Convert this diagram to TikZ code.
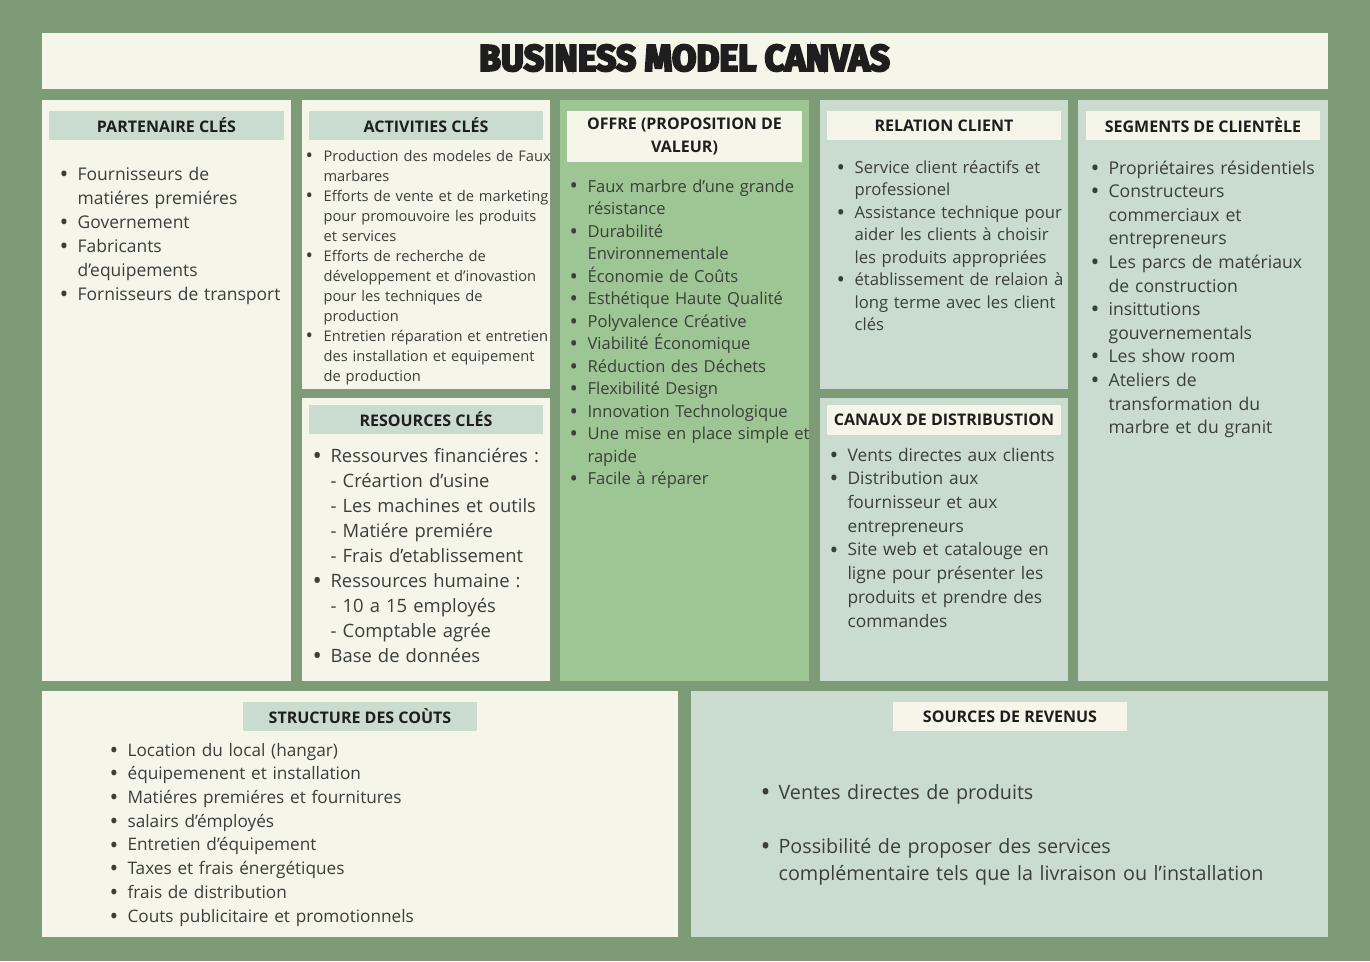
\documentclass[tikz,border=0pt]{standalone}
\usepackage{graphicx}
\usepackage{fontspec}
\setmainfont{Open Sans}
\newfontfamily\titlefont[FakeBold=6]{Fira Sans}

\definecolor{canvasgreen}{HTML}{7E9B78}
\definecolor{cream}{HTML}{F5F5EA}
\definecolor{sage}{HTML}{CADCD0}
\definecolor{offergreen}{HTML}{9EC594}
\definecolor{bodytext}{HTML}{3A3F3A}
\definecolor{hdrtext}{HTML}{1E1E1E}

\newlength\bw
\setlength\bw{11.5pt}
\newcommand\bigdot{\raisebox{-0.12em}{\scalebox{1.35}{\textbullet}}}
\newcommand\bul{\noindent\hangindent=\bw\hangafter=1\makebox[\bw][l]{\hspace*{-2pt}\bigdot}}
\newcommand\itm{\par\bul}
\newcommand\subitm{\par\noindent\hspace*{\bw}}
\newcommand\nl{\newline}

\begin{document}
\begin{tikzpicture}[x=0.75pt,y=-0.75pt]

	\tikzstyle{hdr} = [font=\bfseries\fontsize{12}{17}\selectfont,text=hdrtext,minimum width=176pt,minimum height=22pt,inner sep=0pt]
	\tikzstyle{body} = [anchor=base west,inner sep=0pt,text width=260pt,align=left,text=bodytext]

	% background and panels
	\useasboundingbox (0,0) rectangle (1370,961);
	\fill[canvasgreen] (0,0) rectangle (1370,961);
	\foreach \xa/\ya/\xb/\yb/\col in {42/33/1328/89/cream, 42/100/291/681/cream,
		302/100/550/389/cream, 302/398/550/681/cream, 560/100/809/681/offergreen,
		820/100/1068/389/sage, 820/398/1068/681/sage, 1078/100/1328/681/sage,
		42/691/678/937/cream, 691/691/1328/937/sage}
		\fill[\col] (\xa,\ya) rectangle (\xb,\yb);

	\node[text=hdrtext,inner sep=0pt] (title) at (684.5,58) {\resizebox{308pt}{19.5pt}{\titlefont\bfseries BUSINESS MODEL CANVAS}};

	% headers
	\node[hdr,fill=sage] (partnerhd) at (166.5,125.5) {PARTENAIRE CLÉS};
	\node[hdr,fill=sage] (activhd) at (426,125.5) {ACTIVITIES CLÉS};
	\node[hdr,fill=cream,minimum height=38pt,align=center] (offrehd) at (684.5,136.5) {OFFRE (PROPOSITION DE\\VALEUR)};
	\node[hdr,fill=cream] (relationhd) at (944,125.5) {RELATION CLIENT};
	\node[hdr,fill=cream] (segmenthd) at (1203,125.5) {SEGMENTS DE CLIENTÈLE};
	\node[hdr,fill=sage] (resourcehd) at (426,419.5) {RESOURCES CLÉS};
	\node[hdr,fill=cream] (canauxhd) at (944,420) {CANAUX DE DISTRIBUSTION};
	\node[hdr,fill=sage] (structhd) at (360,716.5) {STRUCTURE DES COÙTS};
	\node[hdr,fill=cream] (sourcehd) at (1010,716.5) {SOURCES DE REVENUS};

	% lists
	\node[body,font=\fontsize{13.1}{18}\selectfont] (partnerlist) at (62,180) {
		\bul Fournisseurs de\nl matiéres premiéres
		\itm Governement
		\itm Fabricants\nl d’equipements
		\itm Fornisseurs de transport\par};

	\node[body,font=\fontsize{11}{15}\selectfont] (activlist) at (308,161) {
		\bul Production des modeles de Faux\nl marbares
		\itm Efforts de vente et de marketing\nl pour promouvoire les produits\nl et services
		\itm Efforts de recherche de\nl développement et d’inovastion\nl pour les techniques de\nl production
		\itm Entretien réparation et entretien\nl des installation et equipement\nl de production\par};

	\node[body,font=\fontsize{12.4}{16.9}\selectfont] (offrelist) at (572,192) {
		\bul Faux marbre d’une grande\nl résistance
		\itm Durabilité\nl Environnementale
		\itm Économie de Coûts
		\itm Esthétique Haute Qualité
		\itm Polyvalence Créative
		\itm Viabilité Économique
		\itm Réduction des Déchets
		\itm Flexibilité Design
		\itm Innovation Technologique
		\itm Une mise en place simple et\nl rapide
		\itm Facile à réparer\par};

	\node[body,font=\fontsize{12.5}{16.9}\selectfont] (relationlist) at (839,173) {
		\bul Service client réactifs et\nl professionel
		\itm Assistance technique pour\nl aider les clients à choisir\nl les produits appropriées
		\itm établissement de relaion à\nl long terme avec les client\nl clés\par};

	\node[body,font=\fontsize{13.2}{17.7}\selectfont] (segmentlist) at (1093,174) {
		\bul Propriétaires résidentiels
		\itm Constructeurs\nl commerciaux et\nl entrepreneurs
		\itm Les parcs de matériaux\nl de construction
		\itm insittutions\nl gouvernementals
		\itm Les show room
		\itm Ateliers de\nl transformation du\nl marbre et du granit\par};

	\node[body,font=\fontsize{13.8}{18.75}\selectfont] (resourcelist) at (315,462) {
		\bul Ressourves financiéres :
		\subitm - Créartion d’usine
		\subitm - Les machines et outils
		\subitm - Matiére premiére
		\subitm - Frais d’etablissement
		\itm Ressources humaine :
		\subitm - 10 a 15 employés
		\subitm - Comptable agrée
		\itm Base de données\par};

	\node[body,font=\fontsize{13}{17.8}\selectfont] (canauxlist) at (832,461) {
		\bul Vents directes aux clients
		\itm Distribution aux\nl fournisseur et aux\nl entrepreneurs
		\itm Site web et catalouge en\nl ligne pour présenter les\nl produits et prendre des\nl commandes\par};

	\node[body,font=\fontsize{12.9}{17.8}\selectfont] (structlist) at (112,756) {
		\bul Location du local (hangar)
		\itm équipemenent et installation
		\itm Matiéres premiéres et fournitures
		\itm salairs d’émployés
		\itm Entretien d’équipement
		\itm Taxes et frais énergétiques
		\itm frais de distribution
		\itm Couts publicitaire et promotionnels\par};

	\node[body,text width=420pt,font=\fontsize{14.8}{20.25}\selectfont] (sourcelist) at (763,799) {
		\bul Ventes directes de produits
		\par\vspace{20.25pt}
		\itm Possibilité de proposer des services\nl complémentaire tels que la livraison ou l’installation\par};

\end{tikzpicture}
\end{document}
